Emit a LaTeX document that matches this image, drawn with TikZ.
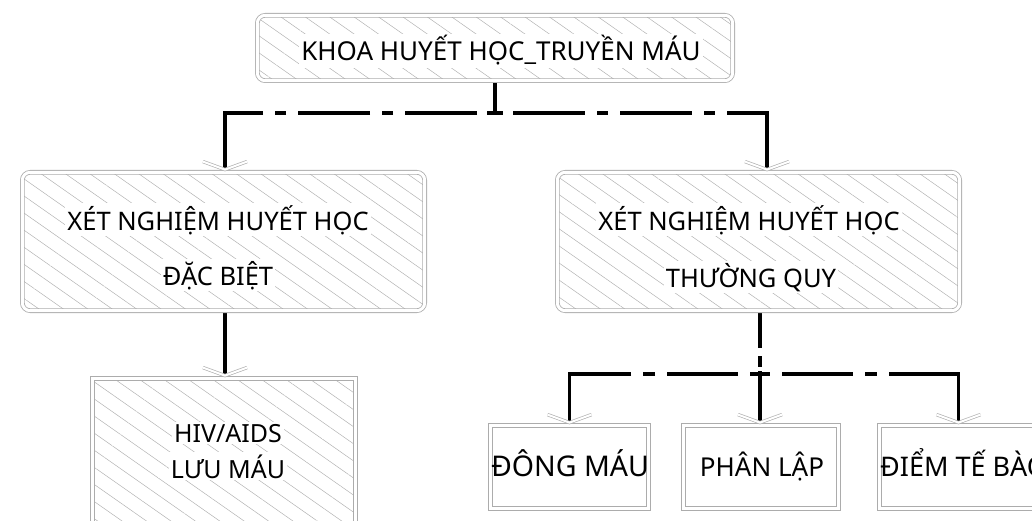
\documentclass[tikz,border=0pt]{standalone}
\usepackage{fontspec}
\setmainfont{Noto Sans}
\usetikzlibrary{calc,patterns.meta,backgrounds}

\tikzset{
  box/.style={draw=gray!65, line width=0.8pt, double=white, double distance=3pt,
              inner sep=0pt, anchor=center},
  hatchbox/.style={box, rounded corners=8pt,
              pattern={Lines[angle=-35, distance=14pt, line width=0.5pt]},
              pattern color=gray!60},
  squarehatch/.style={box,
              pattern={Lines[angle=-35, distance=14pt, line width=0.5pt]},
              pattern color=gray!60},
  plainbox/.style={box, fill=white},
  lbl/.style={fill=white, inner sep=2pt, anchor=base, text=black},
  plainlbl/.style={inner sep=0pt, anchor=base, text=black},
  conn/.style={line width=3.5pt, black, line join=miter},
  % dash-dot runs, starting at the branching point and ending solid
  upperrun/.style={conn, dash pattern=on 8pt off 10pt on 72pt off 12pt on 11pt off 12pt
              on 72pt off 12pt on 11pt off 12pt on 300pt},
  lowerrun/.style={conn, dash pattern=on 10pt off 12pt on 71pt off 12pt on 12pt off 12pt on 300pt},
  stemrun/.style={conn, dash pattern=on 37pt off 8pt on 11pt off 4pt on 300pt},
  chev/.style={draw=gray!60, line width=0.7pt, double=white, double distance=2pt}
}

\begin{document}
\begin{tikzpicture}[x=1pt, y=-1pt]
  \useasboundingbox (0,0) rectangle (1032,521);
  \clip (0,0) rectangle (1032,521);

  % boxes
  \node[hatchbox, minimum width=475.4pt, minimum height=65.4pt] (top) at (495,48) {};
  \node[hatchbox, minimum width=402.4pt, minimum height=138.4pt] (spec) at (223.5,241.5) {};
  \node[hatchbox, minimum width=402.4pt, minimum height=138.4pt] (rout) at (758.5,241.5) {};
  \node[squarehatch, minimum width=263.4pt, minimum height=145.4pt] (hiv) at (224,451) {};
  \node[plainbox, minimum width=158.4pt, minimum height=83.4pt] (coag) at (569.5,467) {};
  \node[plainbox, minimum width=155.4pt, minimum height=83.4pt] (cult) at (761,467) {};
  \node[plainbox, minimum width=158.4pt, minimum height=83.4pt] (count) at (958.5,467) {};

  % labels
  \node[lbl, font=\fontsize{26}{30}\selectfont] (ttop) at (501,61) {KHOA HUYẾT HỌC\_TRUYỀN MÁU};
  \node[lbl, font=\fontsize{25.5}{30}\selectfont] (tspecA) at (218,230) {XÉT NGHIỆM HUYẾT HỌC};
  \node[lbl, font=\fontsize{25.5}{30}\selectfont] (tspecB) at (218,285) {ĐẶC BIỆT};
  \node[lbl, font=\fontsize{25.5}{30}\selectfont] (troutA) at (749,230) {XÉT NGHIỆM HUYẾT HỌC};
  \node[lbl, font=\fontsize{25.5}{30}\selectfont] (troutB) at (751,287) {THƯỜNG QUY};
  \node[lbl, font=\fontsize{25}{29}\selectfont] (thivA) at (228,442) {HIV/AIDS};
  \node[lbl, font=\fontsize{25}{29}\selectfont] (thivB) at (228,478) {LƯU MÁU};
  \node[plainlbl, font=\fontsize{28.5}{32}\selectfont] (tcoag) at (570,476) {ĐÔNG MÁU};
  \node[plainlbl, font=\fontsize{26}{30}\selectfont] (tcult) at (762,476) {PHÂN LẬP};
  \node[plainlbl, font=\fontsize{27}{31}\selectfont, anchor=base west] (tcount) at (880,476) {ĐIỂM TẾ BÀO};

  % arrow tips sit on the outer edge of each target box
  \coordinate (inSpec)  at ([yshift=2.3pt]spec.north -| 225,0);
  \coordinate (inRout)  at ([yshift=2.3pt]rout.north -| 767,0);
  \coordinate (inHiv)   at ([yshift=2.3pt]hiv.north -| 225,0);
  \coordinate (inCoag)  at ([yshift=2.3pt]coag.north);
  \coordinate (inCult)  at ([yshift=2.3pt]cult.north -| 760,0);
  \coordinate (inCount) at ([yshift=2.3pt]count.north);
  \coordinate (splitTop) at (495,113);
  \coordinate (splitBot) at (760,374);

  % connectors, behind the boxes
  \begin{scope}[on background layer]
    \draw[conn] (top.south) -- (splitTop);
    \draw[upperrun] (splitTop) -| (inSpec);
    \draw[upperrun] (splitTop) -| (inRout);
    \draw[conn] (spec.south -| 225,0) -- (inHiv);
    \draw[stemrun] (rout.south -| 760,0) -- (inCult);
    \draw[lowerrun] (splitBot) -| (inCoag);
    \draw[lowerrun] (splitBot) -| (inCount);
  \end{scope}

  % open chevron heads
  \foreach \t in {inSpec,inRout,inHiv,inCoag,inCult,inCount}{
    \draw[chev] ($(\t)+(-22,-8)$) -- (\t) -- ($(\t)+(22,-8)$);
  }
\end{tikzpicture}
\end{document}
